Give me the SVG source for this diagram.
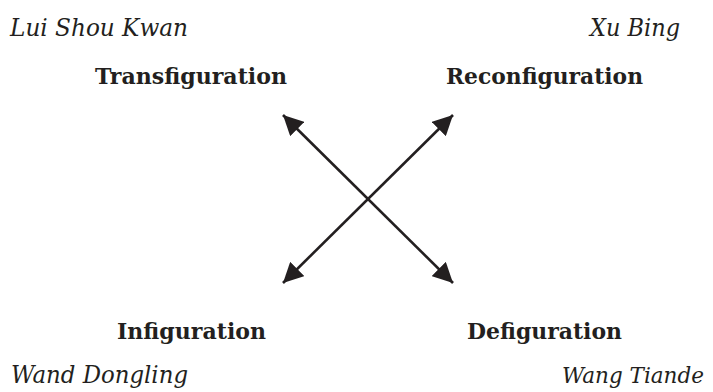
<svg xmlns="http://www.w3.org/2000/svg" width="713" height="392" viewBox="0 0 713 392">
<defs>
<style>
.name{font-family:"DejaVu Serif","Liberation Serif",serif;font-style:italic;font-size:24px;fill:#231f20}
.term{font-family:"DejaVu Serif","Liberation Serif",serif;font-weight:bold;font-size:23px;fill:#231f20}
.conn{stroke:#231f20;stroke-width:2.6;fill:none}
</style>
<marker id="ah" markerUnits="userSpaceOnUse" markerWidth="20" markerHeight="20" refX="16" refY="8" orient="auto-start-reverse" viewBox="0 0 16 16">
<path d="M0,0 L16,8 L0,16 Z" fill="#231f20"/>
</marker>
</defs>
<rect width="713" height="392" fill="#ffffff"/>
<g id="connectors">
<line class="conn" x1="283" y1="115" x2="453" y2="283" marker-start="url(#ah)" marker-end="url(#ah)"/>
<line class="conn" x1="283" y1="283" x2="453" y2="115" marker-start="url(#ah)" marker-end="url(#ah)"/>
</g>
<g id="lui-shou-kwan"><text class="name" x="10" y="36" textLength="178" lengthAdjust="spacingAndGlyphs">Lui Shou Kwan</text></g>
<g id="xu-bing"><text class="name" x="590" y="36" textLength="90" lengthAdjust="spacingAndGlyphs">Xu Bing</text></g>
<g id="transfiguration"><text class="term" x="95" y="84" textLength="192" lengthAdjust="spacingAndGlyphs">Transfiguration</text></g>
<g id="reconfiguration"><text class="term" x="446" y="84" textLength="197" lengthAdjust="spacingAndGlyphs">Reconfiguration</text></g>
<g id="infiguration"><text class="term" x="117" y="339" textLength="149" lengthAdjust="spacingAndGlyphs">Infiguration</text></g>
<g id="defiguration"><text class="term" x="467" y="339" textLength="155" lengthAdjust="spacingAndGlyphs">Defiguration</text></g>
<g id="wand-dongling"><text class="name" x="11" y="383" textLength="177" lengthAdjust="spacingAndGlyphs">Wand Dongling</text></g>
<g id="wang-tiande"><text class="name" x="562" y="383" style="font-size:22.5px" textLength="142" lengthAdjust="spacingAndGlyphs">Wang Tiande</text></g>
</svg>
